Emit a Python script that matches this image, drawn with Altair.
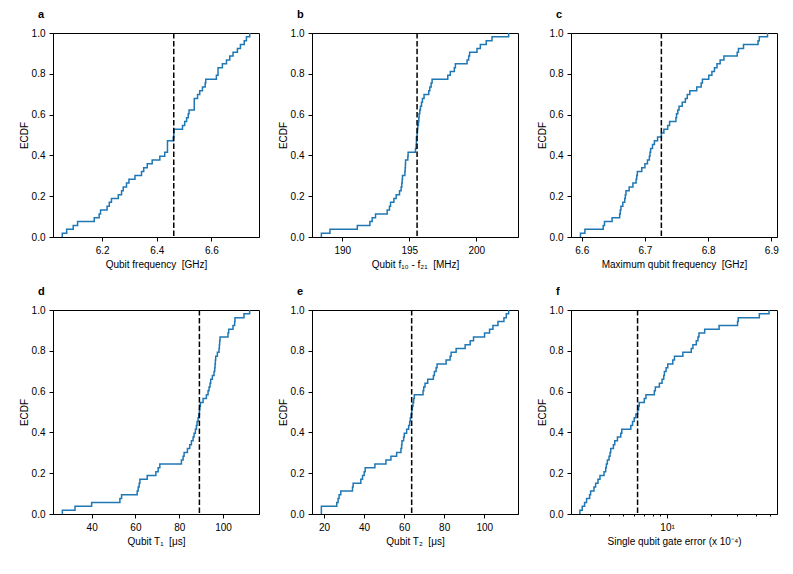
import altair as alt
import pandas as pd

# Values (53 qubits per panel)
qubit_freq_ghz = [6.054, 6.070, 6.094, 6.110, 6.171, 6.189, 6.194, 6.218, 6.226, 6.234,
                  6.259, 6.271, 6.277, 6.289, 6.298, 6.320, 6.344, 6.352, 6.365, 6.383,
                  6.411, 6.429, 6.439, 6.439, 6.439, 6.460, 6.462, 6.463, 6.494, 6.502,
                  6.509, 6.515, 6.518, 6.537, 6.537, 6.537, 6.549, 6.557, 6.567, 6.577,
                  6.579, 6.618, 6.624, 6.624, 6.640, 6.655, 6.667, 6.679, 6.695, 6.706,
                  6.720, 6.728, 6.740]

anharm_mhz = [188.44, 189.08, 191.12, 192.06, 192.23, 192.48, 193.35, 193.52, 193.60, 193.85,
              194.02, 194.27, 194.39, 194.44, 194.47, 194.49, 194.67, 194.69, 194.71, 194.72,
              194.89, 194.91, 195.46, 195.51, 195.53, 195.53, 195.58, 195.61, 195.63, 195.68,
              195.71, 195.73, 195.78, 195.83, 195.91, 195.98, 196.10, 196.45, 196.53, 196.63,
              196.70, 197.87, 198.06, 198.36, 198.44, 199.31, 199.43, 199.50, 200.05, 200.30,
              200.74, 201.17, 202.41]

max_freq_ghz = [6.598, 6.605, 6.634, 6.636, 6.648, 6.660, 6.661, 6.662, 6.665, 6.668,
                6.669, 6.670, 6.675, 6.681, 6.686, 6.687, 6.688, 6.695, 6.700, 6.704,
                6.707, 6.708, 6.709, 6.712, 6.715, 6.720, 6.726, 6.730, 6.736, 6.739,
                6.749, 6.750, 6.752, 6.754, 6.759, 6.764, 6.767, 6.771, 6.782, 6.789,
                6.791, 6.801, 6.806, 6.810, 6.814, 6.819, 6.825, 6.846, 6.848, 6.856,
                6.879, 6.881, 6.894]

t1_us = [26.63, 32.40, 40.00, 52.91, 53.67, 60.81, 61.27, 61.72, 62.03, 65.37,
         69.32, 70.38, 71.14, 81.01, 81.77, 82.23, 83.75, 84.81, 85.57, 86.33,
         86.79, 87.39, 87.85, 88.15, 88.61, 88.91, 89.22, 89.37, 89.67, 90.89,
         92.41, 93.17, 93.62, 94.08, 94.38, 95.14, 95.90, 96.21, 96.36, 96.51,
         96.66, 97.42, 98.18, 98.33, 98.48, 98.64, 102.28, 102.59, 104.56, 105.32,
         105.47, 109.57, 112.16]

t2_us = [18.66, 18.66, 26.35, 27.01, 27.52, 28.35, 34.20, 34.53, 38.37, 39.21,
         40.04, 40.54, 45.39, 50.90, 53.40, 56.24, 58.41, 58.75, 58.91, 59.75,
         60.08, 61.25, 62.25, 62.76, 63.09, 63.42, 63.76, 64.09, 64.43, 64.76,
         65.09, 69.44, 69.77, 70.44, 71.77, 74.61, 75.11, 75.95, 76.45, 80.96,
         82.96, 83.47, 85.97, 90.48, 92.99, 94.66, 100.17, 102.67, 104.34, 106.85,
         109.85, 111.02, 112.19]

gate_err_e4 = [2.551, 2.647, 2.746, 2.834, 2.971, 3.018, 3.181, 3.265, 3.388, 3.496,
               3.724, 3.823, 3.864, 3.925, 4.030, 4.094, 4.137, 4.314, 4.406, 4.596,
               4.843, 4.920, 5.669, 5.822, 5.977, 6.136, 6.300, 6.401, 6.467, 6.998,
               7.186, 8.193, 8.324, 8.867, 9.247, 9.493, 9.594, 9.849, 10.11, 10.94,
               11.23, 12.81, 14.61, 15.00, 15.81, 16.23, 16.49, 18.03, 22.60, 30.18,
               30.50, 42.46, 49.46]

letters = ["a", "b", "c", "d", "e", "f"]
x_titles = ["Qubit frequency \u00a0[GHz]",
            "Qubit f\u2081\u2080 - f\u2082\u2081 \u00a0[MHz]",
            "Maximum qubit frequency \u00a0[GHz]",
            "Qubit T\u2081 \u00a0[\u03bcs]",
            "Qubit T\u2082 \u00a0[\u03bcs]",
            "Single qubit gate error (x 10\u207b\u2074)"]
x_domains = [[6.020, 6.774], [187.74, 203.11], [6.583, 6.909],
             [22.35, 116.44], [13.98, 116.87], [2.22, 56.0]]
x_ticks = [[6.2, 6.4, 6.6], [190, 195, 200], [6.6, 6.7, 6.8, 6.9],
           [40, 60, 80, 100], [20, 40, 60, 80, 100],
           [3, 4, 5, 6, 7, 8, 9, 10, 20, 30, 40, 50]]
x_formats = [".1f", "d", ".1f", "d", "d", ""]
series = [qubit_freq_ghz, anharm_mhz, max_freq_ghz, t1_us, t2_us, gate_err_e4]
y_ticks = [0.0, 0.2, 0.4, 0.6, 0.8, 1.0]

W, H = 206, 204


def panel(i):
    df = pd.DataFrame({"v": series[i]})
    base = alt.Chart(df)
    is_log = i == 5
    if is_log:
        scale = alt.Scale(type="log", domain=x_domains[i], nice=False)
        axis = alt.Axis(values=x_ticks[i], title=x_titles[i],
                        labelExpr="datum.value === 10 ? '10\u00b9' : ''",
                        tickSize={"condition": {"test": "datum.value === 10", "value": 4},
                                  "value": 2})
    else:
        scale = alt.Scale(domain=x_domains[i], nice=False, zero=False)
        axis = alt.Axis(values=x_ticks[i], format=x_formats[i], title=x_titles[i])

    line = (
        base.transform_window(r="row_number()", sort=[alt.SortField("v", order="ascending")])
        .transform_joinaggregate(n="count()")
        .transform_calculate(lo="(datum.r - 1) / datum.n", hi="datum.r / datum.n")
        .transform_fold(["lo", "hi"], as_=["k", "y"])
        .transform_calculate(o="datum.r * 2 + (datum.k === 'hi' ? 1 : 0)")
        .mark_line(color="#1f77b4", strokeWidth=1.5)
        .encode(
            x=alt.X("v:Q", scale=scale, axis=axis),
            y=alt.Y("y:Q", scale=alt.Scale(domain=[0, 1], nice=False),
                    axis=alt.Axis(values=y_ticks, format=".1f", title="ECDF")),
            order="o:Q",
        )
    )
    rule = base.mark_rule(color="black", strokeDash=[5.5, 2.4], strokeWidth=1.5).encode(
        x=alt.X("median(v):Q", title=x_titles[i])
    )
    return alt.layer(line, rule).properties(
        width=W, height=H,
        title=alt.TitleParams(letters[i], anchor="start", frame="group", dx=-15,
                              offset=8, fontSize=11, fontWeight="bold", color="black"),
    )


chart = (
    alt.concat(*[panel(i) for i in range(6)], columns=3,
               spacing={"row": 15, "column": 17})
    .properties(padding={"left": 10, "top": 0, "right": 0, "bottom": 0})
    .configure(font="Liberation Sans")
    .configure_view(stroke="black", strokeWidth=1)
    .configure_axis(grid=False, domainColor="black", tickColor="black",
                    labelColor="black", titleColor="black", labelFontSize=10,
                    titleFontSize=10, titleFontWeight="normal", tickSize=4,
                    labelPadding=4, titlePadding=4, domainWidth=1, tickWidth=1,
                    labelFlush=False, labelOverlap=False)
    .configure_axisY(titlePadding=2)
)

chart.save("out.html", embed_options={"renderer": "svg", "actions": False})
